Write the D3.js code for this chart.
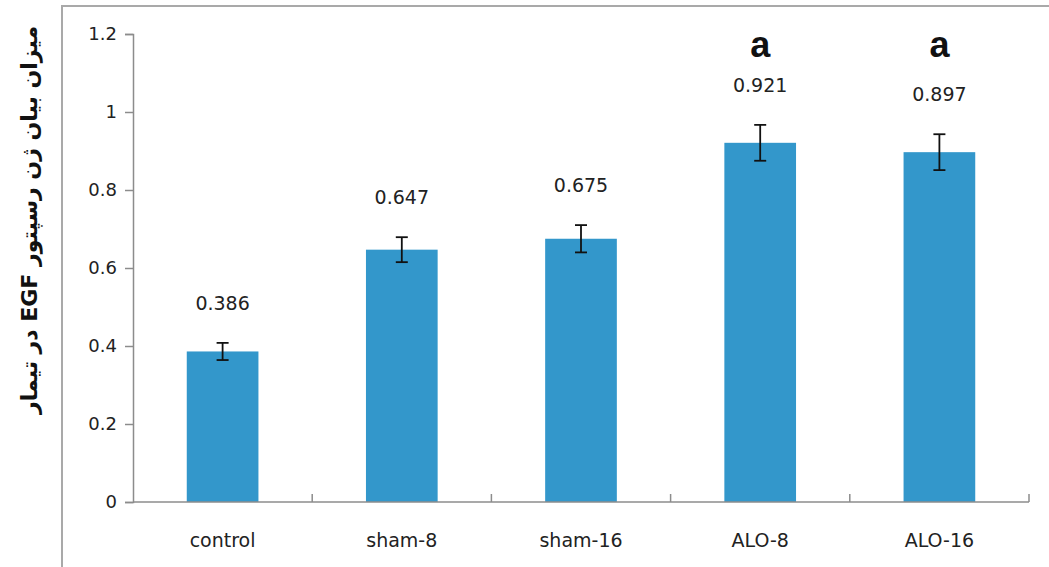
<!DOCTYPE html>
<html>
<head>
<meta charset="utf-8">
<script src="https://cdn.jsdelivr.net/npm/d3@7"></script>
<style>
body{margin:0;background:#fff;}
svg{display:block;}
</style>
</head>
<body>
<div id="chart"></div>
<script>
var groups = ["control","sham-8","sham-16","ALO-8","ALO-16"]
var means = [0.386,0.647,0.675,0.921,0.897]
var errors = [0.022,0.032,0.035,0.046,0.046]
var letters = ["","","","a","a"]
var yTicks = [0,0.2,0.4,0.6,0.8,1,1.2]
var yTitle = "میزان بیان ژن رسپتور EGF در تیمار"

function drawChart(){
    var width = 1049, height = 567
    var barColor = "#3397cb"
    var svg = d3.select("#chart").append("svg").attr("width",width).attr("height",height)

    // outer frame
    svg.append("rect").attr("x",62).attr("y",6).attr("width",1100).attr("height",700)
        .attr("fill","none").attr("stroke","#a9a9a9").attr("stroke-width",2)

    var x = d3.scaleBand().domain(groups).range([133,1029]).paddingInner(0.6).paddingOuter(0.3)
    var y = d3.scaleLinear().domain([0,1.2]).range([502,34])

    // y axis
    var yAxis = svg.append("g").attr("transform","translate(133,0)")
        .call(d3.axisLeft(y).tickValues(yTicks).tickSize(8).tickPadding(8).tickFormat(d3.format("~g")))
    yAxis.select(".domain").attr("stroke","#8c8c8c").attr("stroke-width",1.5)
    yAxis.selectAll(".tick line").attr("stroke","#8c8c8c").attr("stroke-width",1.5)
    yAxis.selectAll("text").attr("font-family","DejaVu Sans").attr("font-size",18).attr("fill","#222")

    // bars
    svg.selectAll(".bar").data(groups).enter().append("rect")
        .attr("class","bar")
        .attr("x",function(d){return x(d)})
        .attr("width",x.bandwidth())
        .attr("y",function(d,i){return y(means[i])})
        .attr("height",function(d,i){return y(0)-y(means[i])})
        .attr("fill",barColor)

    // x axis with ticks at band boundaries
    var step = x.step()
    var xStart = x.range()[0]
    svg.append("line").attr("x1",xStart).attr("x2",x.range()[1]).attr("y1",y(0)).attr("y2",y(0))
        .attr("stroke","#8c8c8c").attr("stroke-width",1.5)
    svg.selectAll(".xtick").data(groups).enter().append("line")
        .attr("x1",function(d,i){return xStart+(i+1)*step})
        .attr("x2",function(d,i){return xStart+(i+1)*step})
        .attr("y1",y(0)).attr("y2",y(0)-8)
        .attr("stroke","#8c8c8c").attr("stroke-width",1.5)
    svg.selectAll(".xlabel").data(groups).enter().append("text")
        .attr("x",function(d){return x(d)+x.bandwidth()/2})
        .attr("y",547)
        .attr("text-anchor","middle")
        .attr("font-family","DejaVu Sans").attr("font-size",19).attr("fill","#222")
        .text(function(d){return d})

    // error bars
    var err = svg.selectAll(".err").data(groups).enter().append("g").attr("class","err")
        .attr("stroke","#111").attr("stroke-width",1.8)
    err.append("line")
        .attr("x1",function(d){return x(d)+x.bandwidth()/2})
        .attr("x2",function(d){return x(d)+x.bandwidth()/2})
        .attr("y1",function(d,i){return y(means[i]+errors[i])})
        .attr("y2",function(d,i){return y(means[i]-errors[i])})
    err.append("line")
        .attr("x1",function(d){return x(d)+x.bandwidth()/2-6})
        .attr("x2",function(d){return x(d)+x.bandwidth()/2+6})
        .attr("y1",function(d,i){return y(means[i]+errors[i])})
        .attr("y2",function(d,i){return y(means[i]+errors[i])})
    err.append("line")
        .attr("x1",function(d){return x(d)+x.bandwidth()/2-6})
        .attr("x2",function(d){return x(d)+x.bandwidth()/2+6})
        .attr("y1",function(d,i){return y(means[i]-errors[i])})
        .attr("y2",function(d,i){return y(means[i]-errors[i])})

    // value labels
    svg.selectAll(".val").data(groups).enter().append("text")
        .attr("x",function(d){return x(d)+x.bandwidth()/2})
        .attr("y",function(d,i){return y(means[i]+errors[i])-33})
        .attr("text-anchor","middle")
        .attr("font-family","DejaVu Sans").attr("font-size",19).attr("fill","#222")
        .text(function(d,i){return d3.format(".3f")(means[i])})

    // significance letters
    svg.selectAll(".sig").data(groups).enter().append("text")
        .attr("x",function(d){return x(d)+x.bandwidth()/2})
        .attr("y",57)
        .attr("text-anchor","middle")
        .attr("font-family","Liberation Sans").attr("font-weight","bold").attr("font-size",36).attr("fill","#111")
        .text(function(d,i){return letters[i]})

    // y title
    svg.append("text")
        .attr("transform","translate(37,220) rotate(-90)")
        .attr("text-anchor","middle")
        .attr("font-family","DejaVu Sans").attr("font-weight","bold").attr("font-size",22).attr("fill","#111")
        .attr("direction","rtl")
        .text(yTitle)
}

drawChart()
</script>
</body>
</html>
